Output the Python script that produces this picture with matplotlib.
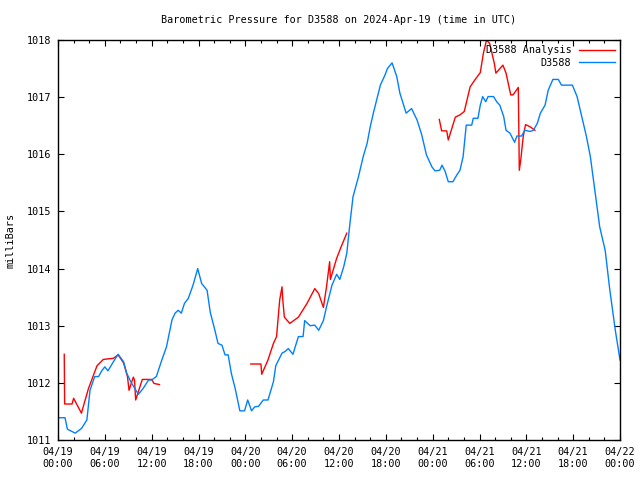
import matplotlib
matplotlib.use('Agg')
import matplotlib.pyplot as plt
import matplotlib.dates as mdates
import pandas as pd

# 開始時刻 (UTC)
START = pd.Timestamp("2024-04-19 00:00")

# D3588 観測値 (開始からの経過時間[h], 気圧[mb])
obs_hours = [0.2, 0.9, 1.2, 2.2, 3.0, 3.7, 4.1, 4.7, 5.2, 5.6, 6.0, 6.4, 7.1, 7.7,
             8.4, 8.8, 9.4, 10.3, 10.9, 11.6, 12.0, 12.6, 13.3, 13.9, 14.6, 15.0,
             15.4, 15.8, 16.2, 16.7, 17.3, 17.9, 18.4, 19.1, 19.5, 20.1, 20.5, 21.0,
             21.4, 21.8, 22.2, 22.7, 23.3, 23.9, 24.3, 24.8, 25.2, 25.7, 26.3, 26.9,
             27.6, 27.9, 28.7, 29.1, 29.5, 30.1, 30.8, 31.4, 31.6, 32.3, 32.9, 33.4,
             34.0, 34.4, 35.1, 35.7, 36.1, 36.6, 37.0, 37.4, 37.8, 38.5, 39.1, 39.6,
             40.0, 40.4, 41.3, 41.9, 42.2, 42.8, 43.4, 43.8, 44.6, 45.3, 46.0, 46.6,
             47.2, 47.9, 48.3, 48.9, 49.2, 49.6, 50.0, 50.6, 51.1, 51.5, 51.9, 52.3,
             53.0, 53.2, 53.8, 54.1, 54.4, 54.8, 55.1, 55.8, 56.2, 56.6, 57.1, 57.4,
             57.9, 58.5, 58.8, 59.4, 59.8, 60.5, 60.9, 61.4, 61.8, 62.4, 62.8, 63.4,
             64.1, 64.5, 65.9, 66.5, 67.1, 67.7, 68.2, 68.6, 69.0, 69.4, 70.1, 70.7,
             71.4, 72.0]
obs_mb = [1011.39, 1011.39, 1011.19, 1011.12, 1011.20, 1011.35, 1011.87, 1012.11,
          1012.11, 1012.21, 1012.28, 1012.21, 1012.37, 1012.50, 1012.37, 1012.17,
          1012.00, 1011.80, 1011.90, 1012.05, 1012.05, 1012.11, 1012.40, 1012.63,
          1013.10, 1013.22, 1013.27, 1013.22, 1013.39, 1013.48, 1013.71, 1014.00,
          1013.74, 1013.62, 1013.24, 1012.92, 1012.69, 1012.66, 1012.49, 1012.49,
          1012.17, 1011.90, 1011.51, 1011.51, 1011.70, 1011.51, 1011.58, 1011.59,
          1011.70, 1011.70, 1012.02, 1012.30, 1012.52, 1012.55, 1012.60, 1012.50,
          1012.81, 1012.81, 1013.09, 1013.00, 1013.01, 1012.92, 1013.09, 1013.33,
          1013.71, 1013.90, 1013.81, 1014.03, 1014.27, 1014.79, 1015.26, 1015.61,
          1015.96, 1016.19, 1016.48, 1016.72, 1017.21, 1017.39, 1017.50, 1017.60,
          1017.36, 1017.07, 1016.72, 1016.80, 1016.60, 1016.34, 1015.99, 1015.78,
          1015.71, 1015.72, 1015.81, 1015.70, 1015.52, 1015.52, 1015.64, 1015.72,
          1015.96, 1016.51, 1016.51, 1016.63, 1016.63, 1016.86, 1017.01, 1016.92,
          1017.01, 1017.01, 1016.92, 1016.86, 1016.66, 1016.42, 1016.37, 1016.21,
          1016.32, 1016.32, 1016.42, 1016.40, 1016.42, 1016.54, 1016.72, 1016.86,
          1017.12, 1017.31, 1017.31, 1017.21, 1017.21, 1017.01, 1016.66, 1016.31,
          1015.96, 1015.55, 1015.14, 1014.73, 1014.32, 1013.62, 1012.92, 1012.40]

# D3588 Analysis (欠測区間ごとに分割)
ana_hours_1 = [0.8, 0.85, 1.8, 2.0, 3.0, 3.9, 5.0, 5.8, 7.1, 7.7, 8.4, 8.9, 9.1,
               9.65, 9.8, 9.95, 10.8, 12.0, 12.3, 13.0]
ana_mb_1 = [1012.50, 1011.63, 1011.63, 1011.73, 1011.47, 1011.90, 1012.30, 1012.41,
            1012.43, 1012.49, 1012.35, 1012.11, 1011.87, 1012.10, 1012.05, 1011.70,
            1012.06, 1012.06, 1011.99, 1011.97]
ana_hours_2 = [24.7, 26.0, 26.1, 26.9, 27.6, 28.0, 28.4, 28.7, 28.8, 29.0, 29.7,
               30.8, 31.9, 32.9, 33.4, 34.0, 34.4, 34.8, 34.9, 35.7, 36.3, 37.0]
ana_mb_2 = [1012.33, 1012.33, 1012.15, 1012.40, 1012.69, 1012.81, 1013.45, 1013.68,
            1013.45, 1013.15, 1013.04, 1013.15, 1013.39, 1013.65, 1013.56, 1013.32,
            1013.68, 1014.12, 1013.81, 1014.18, 1014.39, 1014.62]
ana_hours_3 = [48.85, 49.15, 49.8, 50.0, 50.9, 51.5, 52.05, 52.8, 53.4, 54.1, 54.5,
               54.9, 55.3, 55.9, 56.1, 57.0, 57.4, 58.0, 58.3, 58.97, 59.1, 59.3,
               59.6, 59.9, 60.5, 61.1]
ana_mb_3 = [1016.61, 1016.41, 1016.41, 1016.25, 1016.65, 1016.69, 1016.75, 1017.18,
            1017.30, 1017.43, 1017.77, 1018.00, 1017.94, 1017.59, 1017.42, 1017.56,
            1017.42, 1017.04, 1017.04, 1017.17, 1015.72, 1015.92, 1016.31, 1016.52,
            1016.48, 1016.42]

RED = '#ff0000'
BLUE = '#0080ff'


def to_time(hours):
    """経過時間をTimestampに変換する関数."""
    return [START + pd.Timedelta(hours=h) for h in hours]


plt.rcParams['font.family'] = 'DejaVu Sans Mono'
plt.rcParams['font.size'] = 7.3

fig = plt.figure(figsize=(6.4, 4.8), dpi=100)
ax = fig.add_axes([58 / 640, 40 / 480, 562 / 640, 400 / 480])

ana_segments = [(ana_hours_1, ana_mb_1), (ana_hours_2, ana_mb_2),
                (ana_hours_3, ana_mb_3)]
for i, (hh, mb) in enumerate(ana_segments):
    ax.plot(to_time(hh), mb, color=RED, lw=1,
            label='D3588 Analysis' if i == 0 else None)
ax.plot(to_time(obs_hours), obs_mb, color=BLUE, lw=1, label='D3588')

ax.set_xlim(START, START + pd.Timedelta(hours=72))
ax.set_ylim(1011, 1018)

ax.xaxis.set_major_locator(mdates.HourLocator(byhour=range(0, 24, 6)))
ax.xaxis.set_minor_locator(mdates.HourLocator(byhour=range(0, 24, 2)))
ax.xaxis.set_major_formatter(mdates.DateFormatter('%m/%d\n%H:%M'))
ax.set_yticks(range(1011, 1019))

ax.tick_params(which='both', direction='in', top=True, right=True)
ax.tick_params(which='major', length=4, width=0.8, pad=5)
ax.tick_params(which='minor', length=2.5, width=0.8)
for s in ax.spines.values():
    s.set_linewidth(1)

ax.set_ylabel('milliBars', labelpad=8)
ax.set_title('Barometric Pressure for D3588 on 2024-Apr-19 (time in UTC)',
             fontsize=7.3, pad=12)

ax.legend(loc='upper right', frameon=False, markerfirst=False,
          handlelength=3.5, borderaxespad=0.1, labelspacing=0.25,
          handletextpad=0.8)

fig.savefig('out.png', dpi=100)
